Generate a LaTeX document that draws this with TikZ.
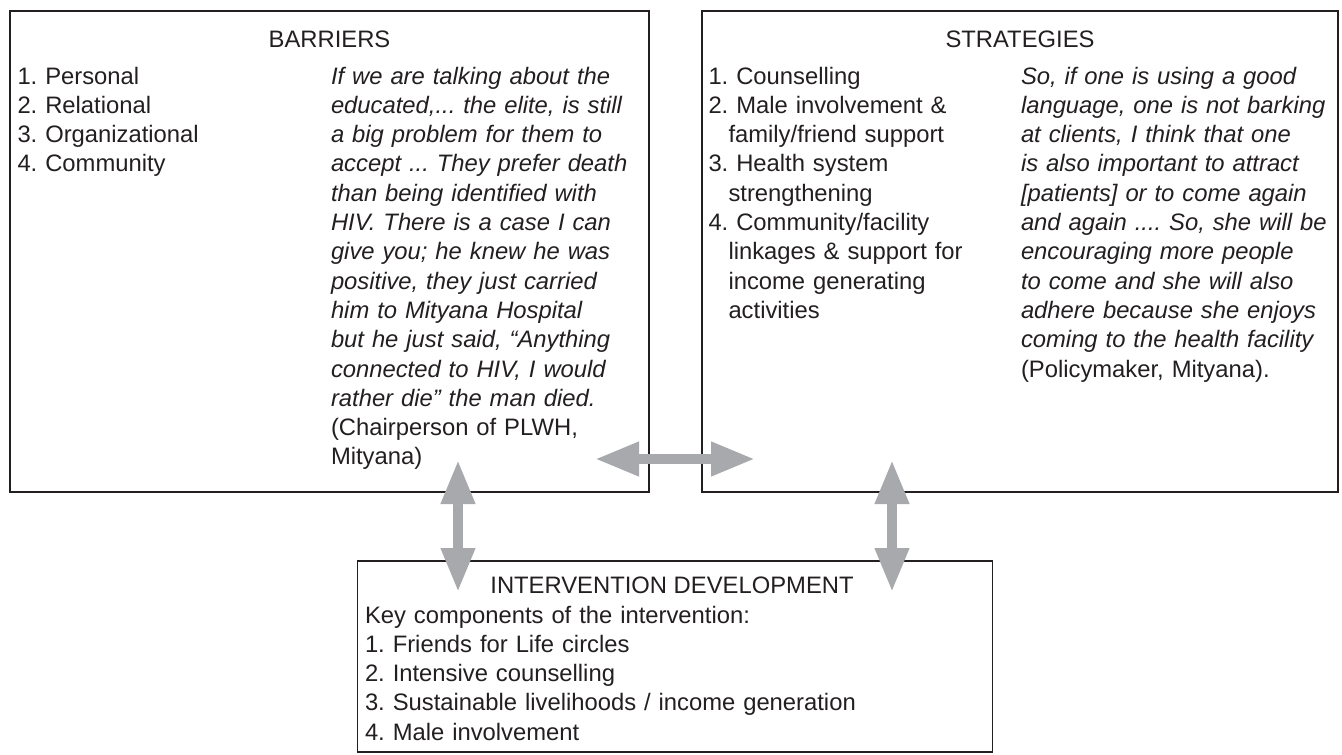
\documentclass[tikz,border=0pt]{standalone}
\usepackage{fontspec}
\setmainfont{Liberation Sans}
\usetikzlibrary{arrows.meta,positioning,calc}
\definecolor{arrowgray}{HTML}{A7A9AC}
\definecolor{boxline}{HTML}{231F20}
\frenchspacing

\begin{document}
\begin{tikzpicture}[x=1pt,y=-1pt,
  every node/.style={inner sep=0pt,outer sep=0pt,text=boxline,font=\fontsize{23.8}{29.3}\selectfont},
  panel/.style={draw=boxline,line width=1.6pt,anchor=north west},
  title/.style={anchor=base},
  body/.style={anchor=base west,align=left,text width=#1},
  twoway/.style={arrowgray,line width=10pt,{Triangle[width=32pt,length=44pt]}-{Triangle[width=32pt,length=44pt]}}]
\useasboundingbox (0,0) rectangle (1342,755);
% the three panels
\node[panel,minimum width=639pt,minimum height=481pt] (barriers) at (10,11) {};
\node[panel,minimum width=636pt,minimum height=481pt] (strategies) at (702,11) {};
\node[panel,minimum width=635pt,minimum height=191pt] (intervention) at (357.5,561) {};
% barriers
\node[title] (barrierstitle) at (329.5,47) {BARRIERS};
\node[body=300pt] (barrierslist) at (17.5,84) {1. Personal\\2. Relational\\3. Organizational\\4. Community};
\node[body=400pt] (barriersquote) at (331,84) {\itshape If we are talking about the\\
educated,... the elite, is still\\
a big problem for them to\\
accept ... They prefer death\\
than being identified with\\
HIV. There is a case I can\\
give you; he knew he was\\
positive, they just carried\\
him to Mityana Hospital\\
but he just said, “Anything\\
connected to HIV, I would\\
rather die” the man died.\\
\upshape (Chairperson of PLWH,\\
Mityana)};
% strategies
\node[title] (strategiestitle) at (1020,47) {STRATEGIES};
\node[body=300pt] (strategieslist) at (708.5,84) {1. Counselling\\
2. Male involvement \&\\
\hspace*{20pt}family/friend support\\
3. Health system\\
\hspace*{20pt}strengthening\\
4. Community/facility\\
\hspace*{20pt}linkages \& support for\\
\hspace*{20pt}income generating\\
\hspace*{20pt}activities};
\node[body=400pt] (strategiesquote) at (1021,84) {\itshape So, if one is using a good\\
language, one is not barking\\
at clients, I think that one\\
is also important to attract\\
{}[patients] or to come again\\
and again .... So, she will be\\
encouraging more people\\
to come and she will also\\
adhere because she enjoys\\
coming to the health facility\\
\upshape (Policymaker, Mityana).};
% intervention development
\node[title] (interventiontitle) at (672,593) {INTERVENTION DEVELOPMENT};
\node[body=600pt] (interventionlist) at (365,623) {Key components of the intervention:\\
1. Friends for Life circles\\
2. Intensive counselling\\
3. Sustainable livelihoods / income generation\\
4. Male involvement};
% two-way arrows
\coordinate (hleft) at ($(barriers.south east)+(-54,-33)$);
\coordinate (hright) at ($(strategies.south west)+(53,-33)$);
\coordinate (ltop) at (458,460);
\coordinate (lbottom) at (458,592);
\coordinate (rtop) at (892,460);
\coordinate (rbottom) at (892,592);
\draw[twoway] (hleft) -- (hright);
\draw[twoway] (ltop) -- (lbottom);
\draw[twoway] (rtop) -- (rbottom);
\end{tikzpicture}
\end{document}
